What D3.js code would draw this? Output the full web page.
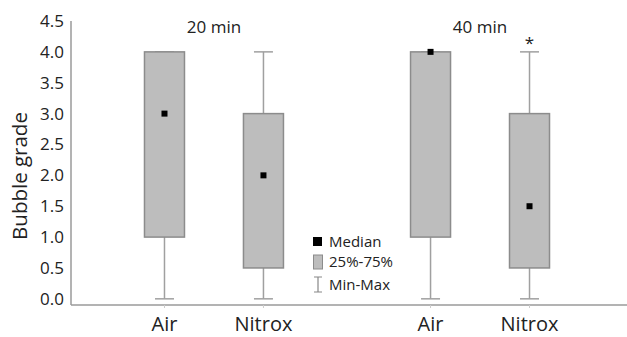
<!DOCTYPE html>
<html>
<head>
<meta charset="utf-8">
<script src="https://cdn.jsdelivr.net/npm/d3@7"></script>
<style>
  body { margin: 0; background: #fff; }
  text { font-family: "Open Sans", sans-serif; fill: #222; }
</style>
</head>
<body>
<div id="chart"></div>
<script>
// data
const groups = ["20 min", "20 min", "40 min", "40 min"];
const categories = ["Air", "Nitrox", "Air", "Nitrox"];
const mins = [0, 0, 0, 0];
const q1 = [1.0, 0.5, 1.0, 0.5];
const medians = [3.0, 2.0, 4.0, 1.5];
const q3 = [4.0, 3.0, 4.0, 3.0];
const maxs = [4.0, 4.0, 4.0, 4.0];
const starred = [false, false, false, true];
const yTicks = [0, 0.5, 1, 1.5, 2, 2.5, 3, 3.5, 4, 4.5];

const svgWidth = 627, svgHeight = 337;
const margin = { top: 21, right: 0, bottom: 32, left: 71 };
const width = svgWidth - margin.left - margin.right;
const height = svgHeight - margin.top - margin.bottom;

const svg = d3.select("#chart").append("svg")
  .attr("width", svgWidth)
  .attr("height", svgHeight);

const g = svg.append("g")
  .attr("transform", `translate(${margin.left}, ${margin.top})`);

const rows = categories.map((c, i) => ({
  group: groups[i], cat: c, min: mins[i], q1: q1[i],
  med: medians[i], q3: q3[i], max: maxs[i], star: starred[i]
}));

const groupNames = Array.from(new Set(groups));
const catNames = Array.from(new Set(categories));

// outer band = time point, inner band = gas
const x0 = d3.scaleBand()
  .domain(groupNames)
  .range([115 - margin.left, 579 - margin.left])
  .paddingInner(0.256);
const x1 = d3.scaleBand()
  .domain(catNames)
  .range([0, x0.bandwidth()]);
const xc = d => x0(d.group) + x1(d.cat) + x1.bandwidth() / 2;

const y = d3.scaleLinear()
  .domain([-0.1, 4.5])
  .range([height, 0]);

const axisColor = "#9a9a9a";

// y axis
const yAxis = g.append("g")
  .call(d3.axisLeft(y).tickValues(yTicks).tickFormat(d3.format(".1f")).tickSize(0).tickPadding(7));
yAxis.select(".domain").attr("stroke", axisColor).attr("stroke-width", 1.5)
  .attr("d", `M0,${y(4.5)}V${height}`);
yAxis.selectAll("text").style("font-size", "17px").attr("fill", "#333");

// x axis line
g.append("line")
  .attr("x1", 0).attr("x2", width)
  .attr("y1", height).attr("y2", height)
  .attr("stroke", axisColor).attr("stroke-width", 1.5);

g.selectAll(".xtick").data(rows).enter().append("line")
  .attr("x1", xc).attr("x2", xc)
  .attr("y1", height).attr("y2", height + 3)
  .attr("stroke", "#ccc");

g.selectAll(".xlab").data(rows).enter().append("text")
  .attr("x", xc)
  .attr("y", height + 26)
  .attr("text-anchor", "middle")
  .style("font-size", "20px")
  .text(d => d.cat);

const boxW = 40, capW = 19;

// whiskers
g.selectAll(".whisker").data(rows).enter().append("line")
  .attr("x1", xc).attr("x2", xc)
  .attr("y1", d => y(d.min)).attr("y2", d => y(d.max))
  .attr("stroke", "#a0a0a0").attr("stroke-width", 1.5);

g.selectAll(".capLo").data(rows).enter().append("line")
  .attr("x1", d => xc(d) - capW / 2).attr("x2", d => xc(d) + capW / 2)
  .attr("y1", d => y(d.min)).attr("y2", d => y(d.min))
  .attr("stroke", "#a0a0a0").attr("stroke-width", 1.5);

g.selectAll(".capHi").data(rows).enter().append("line")
  .attr("x1", d => xc(d) - capW / 2).attr("x2", d => xc(d) + capW / 2)
  .attr("y1", d => y(d.max)).attr("y2", d => y(d.max))
  .attr("stroke", "#a0a0a0").attr("stroke-width", 1.5);

// boxes
g.selectAll(".box").data(rows).enter().append("rect")
  .attr("x", d => xc(d) - boxW / 2)
  .attr("width", boxW)
  .attr("y", d => y(d.q3))
  .attr("height", d => y(d.q1) - y(d.q3))
  .attr("fill", "#bdbdbd")
  .attr("stroke", "#8c8c8c")
  .attr("stroke-width", 1.5);

// medians
g.selectAll(".med").data(rows).enter().append("rect")
  .attr("x", d => xc(d) - 3)
  .attr("y", d => y(d.med) - 3)
  .attr("width", 6).attr("height", 6)
  .attr("fill", "#000");

// asterisk
g.selectAll(".star").data(rows.filter(d => d.star)).enter().append("text")
  .attr("x", xc)
  .attr("y", d => y(d.max) - 3)
  .attr("text-anchor", "middle")
  .style("font-size", "17px")
  .text("*");

// group titles
g.selectAll(".gtitle").data(groupNames).enter().append("text")
  .attr("x", d => x0(d) + x0.bandwidth() / 2)
  .attr("y", 12)
  .attr("text-anchor", "middle")
  .style("font-size", "17px")
  .text(d => d);

// y label
svg.append("text")
  .attr("transform", `translate(27, 176) rotate(-90)`)
  .attr("text-anchor", "middle")
  .style("font-size", "20.5px")
  .text("Bubble grade");

// legend
const legend = svg.append("g").attr("transform", "translate(313, 237)");
legend.append("rect").attr("x", 0).attr("y", 0).attr("width", 9).attr("height", 9).attr("fill", "#000");
legend.append("text").attr("x", 16).attr("y", 9.5).style("font-size", "15px").text("Median");
legend.append("rect").attr("x", 0.5).attr("y", 18).attr("width", 9).attr("height", 14)
  .attr("fill", "#bdbdbd").attr("stroke", "#8c8c8c");
legend.append("text").attr("x", 16).attr("y", 30).style("font-size", "15px").text("25%-75%");
legend.append("path").attr("d", "M1,40H9M5,40V55M1,55H9").attr("fill", "none").attr("stroke", "#888").attr("stroke-width", 1.2);
legend.append("text").attr("x", 16).attr("y", 53).style("font-size", "15px").text("Min-Max");
</script>
</body>
</html>
